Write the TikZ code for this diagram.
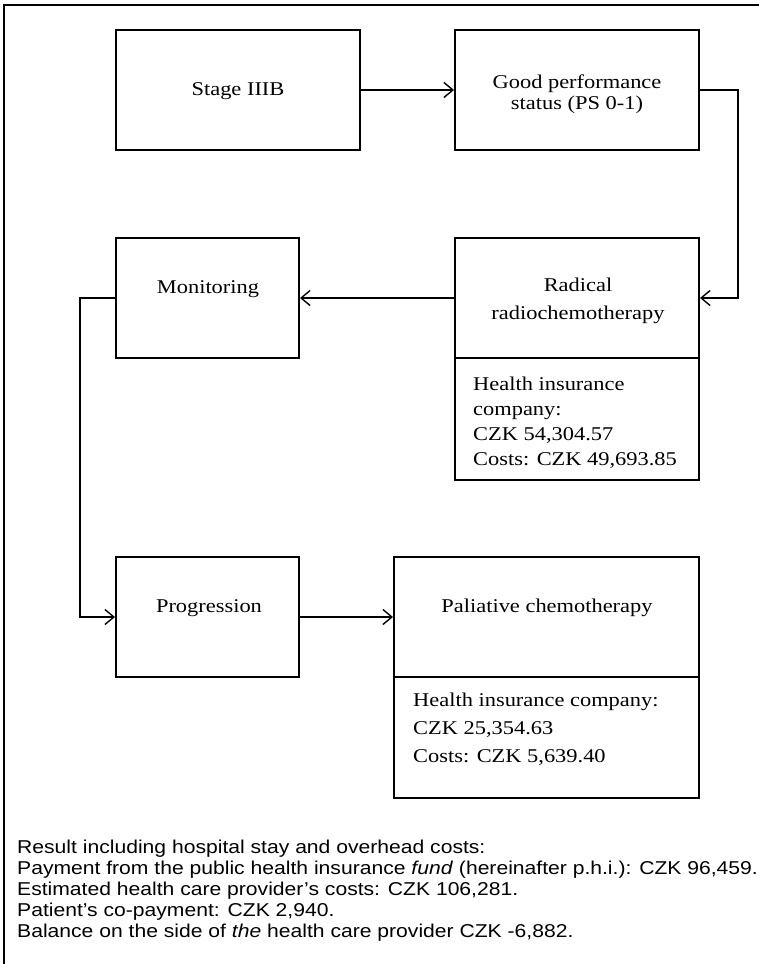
\documentclass[tikz,border=0pt]{standalone}
\usepackage{fontspec}
\setmainfont{Liberation Serif}[FakeStretch=1.15]
\newfontfamily\notefont{Liberation Sans}[FakeStretch=1.135]
\usetikzlibrary{arrows.meta}
\begin{document}
\begin{tikzpicture}[x=1pt,y=1pt,
  box/.style={draw, line width=2pt, inner sep=0pt},
  conn/.style={line width=1.4pt},
  arr/.style={conn, -{Straight Barb[length=9pt,width=15pt,line width=1.4pt]}},
  lbl/.style={font=\fontsize{19.5}{21}\selectfont, inner sep=0pt, align=center},
  cost/.style={inner sep=0pt, align=left, anchor=north west},
  note/.style={font=\notefont\fontsize{18.6}{21}\selectfont, inner sep=0pt, align=left, anchor=north west}]
\useasboundingbox (0,0) rectangle (759,-964);
% outer frame
\draw[line width=1.3pt] (759,-5) -- (4,-5) -- (4,-964);
% boxes
\node[box, minimum width=244pt, minimum height=120pt] (stage) at (238,-90) {};
\node[box, minimum width=244pt, minimum height=120pt] (good) at (577,-90) {};
\node[box, minimum width=183pt, minimum height=120pt] (monitor) at (207.5,-298) {};
\node[box, minimum width=244pt, minimum height=120pt] (radical) at (577,-298) {};
\node[box, minimum width=244pt, minimum height=122pt] (cost1) at (577,-419) {};
\node[box, minimum width=183pt, minimum height=120pt] (progress) at (207.5,-617) {};
\node[box, minimum width=305pt, minimum height=120pt] (paliative) at (546.5,-617) {};
\node[box, minimum width=305pt, minimum height=121pt] (cost2) at (546.5,-737.5) {};
% texts
\node[lbl, anchor=base] (stageT) at (238,-95) {Stage IIIB};
\node[lbl, anchor=north] (goodT) at (577,-75) {Good performance\\status (PS 0-1)};
\node[lbl, anchor=base] (monitorT) at (208,-293) {Monitoring};
\node[lbl, anchor=north, font=\fontsize{19.5}{28}\selectfont] (radicalT) at (578,-278) {Radical\\radiochemotherapy};
\node[cost, font=\fontsize{19.5}{25}\selectfont] (cost1T) at (473,-377) {Health insurance\\company:\\CZK 54,304.57\\Costs: CZK 49,693.85};
\node[lbl, anchor=base] (progressT) at (209,-612) {Progression};
\node[lbl, anchor=base] (paliativeT) at (547,-612) {Paliative chemotherapy};
\node[cost, font=\fontsize{19.5}{28}\selectfont] (cost2T) at (413,-693) {Health insurance company:\\CZK 25,354.63\\Costs: CZK 5,639.40};
\node[note] (result) at (17,-839.5) {Result including hospital stay and overhead costs:\\
Payment from the public health insurance \textit{fund} (hereinafter p.h.i.): CZK 96,459.\\
Estimated health care provider’s costs: CZK 106,281.\\
Patient’s co-payment: CZK 2,940.\\
Balance on the side of \textit{the} health care provider CZK -6,882.};
% connectors
\draw[arr] (stage.east) -- (good.west);
\coordinate (rturn) at (738,-90);
\draw[arr] (good.east) -- (rturn) |- (radical.east);
\draw[arr] (radical.west) -- (monitor.east);
\coordinate (lturn) at (80,-298);
\draw[arr] (monitor.west) -- (lturn) |- (progress.west);
\draw[arr] (progress.east) -- (paliative.west);
\end{tikzpicture}
\end{document}
